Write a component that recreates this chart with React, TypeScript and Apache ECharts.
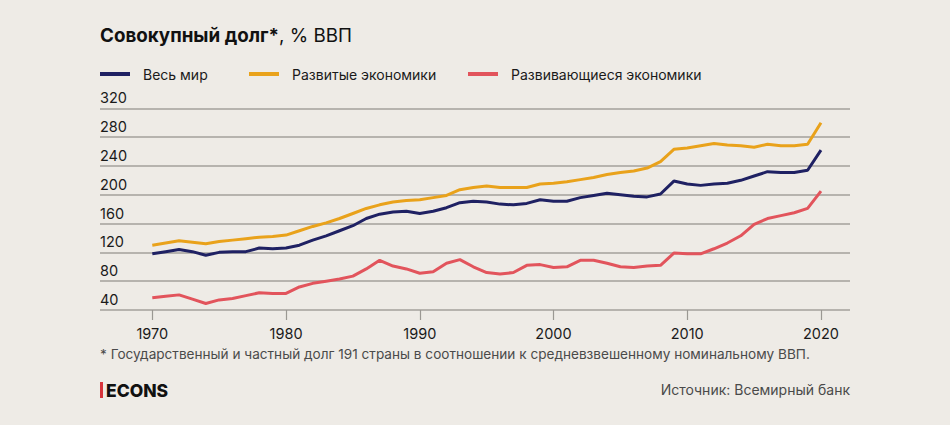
import React, { useEffect, useRef } from "react";
import * as echarts from "echarts";

const years = [
  1970, 1971, 1972, 1973, 1974, 1975, 1976, 1977, 1978, 1979,
  1980, 1981, 1982, 1983, 1984, 1985, 1986, 1987, 1988, 1989,
  1990, 1991, 1992, 1993, 1994, 1995, 1996, 1997, 1998, 1999,
  2000, 2001, 2002, 2003, 2004, 2005, 2006, 2007, 2008, 2009,
  2010, 2011, 2012, 2013, 2014, 2015, 2016, 2017, 2018, 2019,
  2020,
];

const world = [
  118, 121, 124, 121, 116, 120, 121, 121, 126, 125,
  126, 130, 137, 143, 150, 157, 167, 173, 176, 177,
  174, 177, 182, 189, 191, 190, 187, 186, 188, 193,
  191, 191, 196, 199, 202, 200, 198, 197, 201, 219,
  215, 213, 215, 216, 220, 226, 232, 231, 231, 234,
  262,
];

const advanced = [
  130, 133, 136, 134, 132, 135, 137, 139, 141, 142,
  144, 150, 156, 161, 167, 174, 181, 186, 190, 192,
  193, 196, 199, 207, 210, 212, 210, 210, 210, 215,
  216, 218, 221, 224, 228, 231, 233, 237, 246, 263,
  265, 268, 271, 269, 268, 266, 270, 268, 268, 270,
  300,
];

const emerging = [
  57, 59, 61, 55, 49, 54, 56, 60, 64, 63,
  63, 72, 77, 80, 83, 87, 97, 109, 101, 97,
  91, 93, 105, 110, 100, 92, 90, 92, 102, 103,
  99, 100, 109, 109, 105, 100, 99, 101, 102, 119,
  118, 118, 125, 133, 143, 159, 167, 171, 175, 181,
  205,
];

const xTicks = [1970, 1980, 1990, 2000, 2010, 2020];
const seriesNames = ["Весь мир", "Развитые экономики", "Развивающиеся экономики"];
const colors = ["#1f2163", "#e9a21b", "#e2545c"];

const title = "Совокупный долг*";
const titleUnit = ", % ВВП";
const footnote =
  "* Государственный и частный долг 191 страны в соотношении к средневзвешенному номинальному ВВП.";
const source = "Источник: Всемирный банк";
const brand = "ECONS";

const FONT = "Inter, Roboto, sans-serif";

export default function App() {
  const ref = useRef<HTMLDivElement>(null);

  useEffect(() => {
    const chart = echarts.init(ref.current!, null, { renderer: "svg" });
    const allSeries = [world, advanced, emerging];
    const legendLefts = [100, 249, 468];

    chart.setOption({
      animation: false,
      backgroundColor: "#eeebe6",
      legend: seriesNames.map((n, i) => ({
        left: legendLefts[i],
        top: 67,
        padding: 0,
        data: [n],
        icon: "rect",
        itemWidth: 30,
        itemHeight: 4,
        textStyle: {
          fontFamily: FONT,
          fontSize: 14,
          color: "#1a1a1a",
          padding: [0, 0, 0, 8],
        },
        selectedMode: false,
      })),
      grid: { left: 100, right: 100, top: 108.3, bottom: 115, containLabel: false },
      xAxis: {
        type: "value",
        min: 1966.09,
        max: 2022.17,
        axisLine: { show: false },
        splitLine: { show: false },
        axisTick: {
          show: true,
          customValues: xTicks,
          length: 10,
          lineStyle: { color: "#9b9893", width: 1.2 },
        },
        axisLabel: {
          customValues: xTicks,
          margin: 16,
          fontFamily: FONT,
          fontSize: 14.5,
          color: "#1a1a1a",
          formatter: (v: number) => String(v),
        },
      },
      yAxis: {
        type: "value",
        min: 40,
        max: 320,
        interval: 40,
        axisLine: { show: false },
        axisTick: { show: false },
        splitLine: { show: true, lineStyle: { color: "#a3a09b", width: 1.5 } },
        axisLabel: {
          inside: true,
          margin: 0,
          align: "left",
          verticalAlign: "bottom",
          padding: [0, 0, 3, 0],
          fontFamily: FONT,
          fontSize: 14.5,
          color: "#1a1a1a",
        },
      },
      series: seriesNames.map((n, i) => ({
        name: n,
        type: "line",
        data: years.map((y, j) => [y, allSeries[i][j]]),
        showSymbol: false,
        symbol: "none",
        lineStyle: { color: colors[i], width: 3 },
        itemStyle: { color: colors[i] },
        z: 3 - i,
      })),
      graphic: [
        {
          type: "text",
          left: 100,
          top: 26,
          style: {
            text: `{b|${title}}{r|${titleUnit}}`,
            rich: {
              b: { fontFamily: FONT, fontSize: 18.8, fontWeight: "bold", fill: "#111" },
              r: { fontFamily: FONT, fontSize: 18.8, fontWeight: "normal", fill: "#111" },
            },
          },
        },
        {
          type: "text",
          left: 100,
          top: 347,
          style: {
            text: footnote,
            fontFamily: FONT,
            fontSize: 13.6,
            fill: "#4a4a4a",
          },
        },
        {
          type: "rect",
          left: 100,
          top: 382,
          shape: { width: 3, height: 16 },
          style: { fill: "#d8343c" },
        },
        {
          type: "text",
          left: 106,
          top: 381,
          style: {
            text: brand,
            fontFamily: FONT,
            fontSize: 17.5,
            fontWeight: 800,
            fill: "#111",
          },
        },
        {
          type: "text",
          right: 100,
          top: 382,
          style: {
            text: source,
            fontFamily: FONT,
            fontSize: 14,
            fill: "#4a4a4a",
          },
        },
      ],
    });

    return () => chart.dispose();
  }, []);

  return (
    <div
      ref={ref}
      style={{ position: "absolute", left: 0, top: 0, width: 950, height: 425 }}
    />
  );
}
